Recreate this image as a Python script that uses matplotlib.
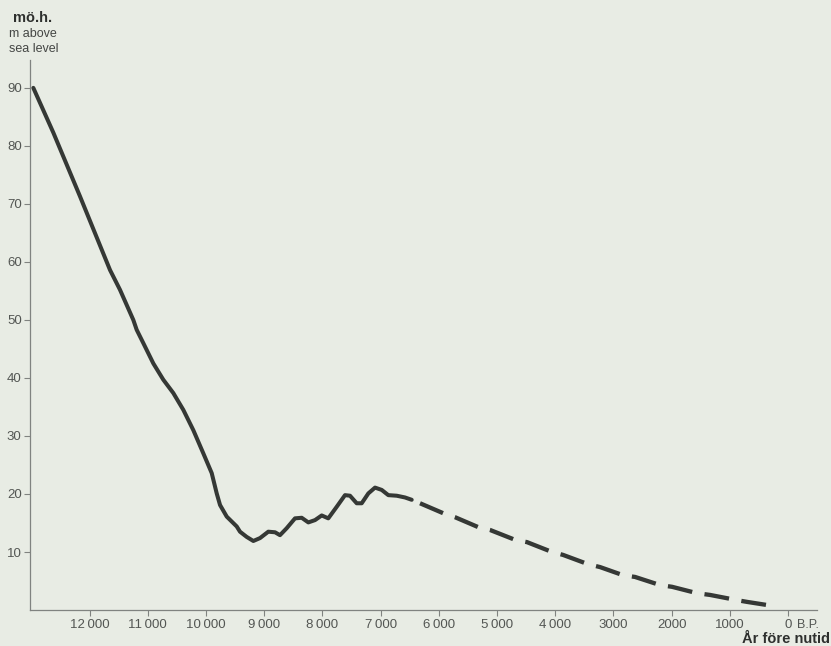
import matplotlib
matplotlib.use("Agg")
import matplotlib.pyplot as plt

# Strandlinjekurva: nivå (m ö.h.) mot år före nutid
# Säker (heldragen) del
ar_saker = [12967, 12624, 12165, 11649, 11478, 11249, 11191, 11077, 10905, 10734,
            10562, 10390, 10218, 10046, 9902, 9816, 9759, 9644, 9472, 9416,
            9301, 9187, 9072, 8930, 8814, 8729, 8614, 8471, 8356, 8242,
            8127, 8012, 7899, 7754, 7612, 7526, 7411, 7325, 7211, 7096,
            6981, 6868, 6723, 6581, 6466]
niva_saker = [90.0, 82.3, 71.3, 58.6, 55.2, 50.0, 48.3, 46.0, 42.5, 39.7,
              37.4, 34.5, 31.0, 27.0, 23.6, 20.1, 18.1, 16.1, 14.4, 13.5,
              12.6, 11.9, 12.4, 13.5, 13.4, 12.9, 14.1, 15.8, 15.9, 15.1,
              15.5, 16.3, 15.8, 17.8, 19.8, 19.7, 18.4, 18.4, 20.1, 21.1,
              20.7, 19.8, 19.7, 19.4, 19.0]

# Osäker (streckad) del
ar_osaker = [6323, 5928, 5722, 5326, 5120, 4691, 4485, 4055, 3866, 3436,
             3230, 2835, 2629, 2199, 1993, 1564, 1340, 876, 704, 258]
niva_osaker = [18.4, 16.7, 16.0, 14.3, 13.8, 12.1, 11.7, 10.0, 9.5, 7.9,
               7.4, 6.0, 5.7, 4.3, 4.0, 2.9, 2.6, 1.7, 1.4, 0.7]

x_ticks = [12000, 11000, 10000, 9000, 8000, 7000, 6000, 5000, 4000, 3000, 2000, 1000, 0]
x_labels = ["12\u2009000", "11\u2009000", "10\u2009000", "9\u2009000", "8\u2009000",
            "7\u2009000", "6\u2009000", "5\u2009000", "4\u2009000", "3000", "2000", "1000", "0"]
y_ticks = [10, 20, 30, 40, 50, 60, 70, 80, 90]

BG = "#e8ece4"
INK = "#353835"
GREY = "#535653"
FONT = ["Liberation Sans", "DejaVu Sans"]
plt.rcParams["font.family"] = FONT

fig = plt.figure(figsize=(8.31, 6.46), dpi=100, facecolor=BG)
ax = fig.add_axes([0.0361, 0.0557, 0.9471, 0.8514])
ax.set_facecolor(BG)

ax.plot(ar_saker, niva_saker, color=INK, lw=2.9,
        solid_joinstyle="round", solid_capstyle="round")
ax.plot(ar_osaker, niva_osaker, color=INK, lw=3.1,
        dashes=(5.8, 2.9), dash_capstyle="butt", dash_joinstyle="round")

ax.set_xlim(13024, -498)
ax.set_ylim(0, 94.8)

for side in ("top", "right"):
    ax.spines[side].set_visible(False)
for side in ("left", "bottom"):
    ax.spines[side].set_color("#808380")
    ax.spines[side].set_linewidth(0.9)

ax.set_xticks(x_ticks)
ax.set_xticklabels(x_labels)
ax.set_yticks(y_ticks)
ax.tick_params(axis="both", direction="out", length=4, width=0.8, color="#808380",
               labelcolor=GREY, labelsize=9.5)
ax.tick_params(axis="x", pad=2.5)
ax.tick_params(axis="y", pad=2)

# Axeltexter
fig.text(33 / 831, 1 - 18 / 646, "mö.h.", ha="center", va="center",
         fontsize=10.5, fontweight="bold", color="#2e302e")
fig.text(9 / 831, 1 - 34 / 646, "m above", ha="left", va="center",
         fontsize=9, color="#444644")
fig.text(9 / 831, 1 - 49 / 646, "sea level", ha="left", va="center",
         fontsize=9, color="#444644")
fig.text(797 / 831, 1 - 625 / 646, "B.P.", ha="left", va="center",
         fontsize=9, color=GREY)
fig.text(830 / 831, 1 - 639 / 646, "År före nutid", ha="right", va="center",
         fontsize=10.5, fontweight="bold", color="#2e302e")

fig.savefig("out.png", dpi=100, facecolor=BG)
